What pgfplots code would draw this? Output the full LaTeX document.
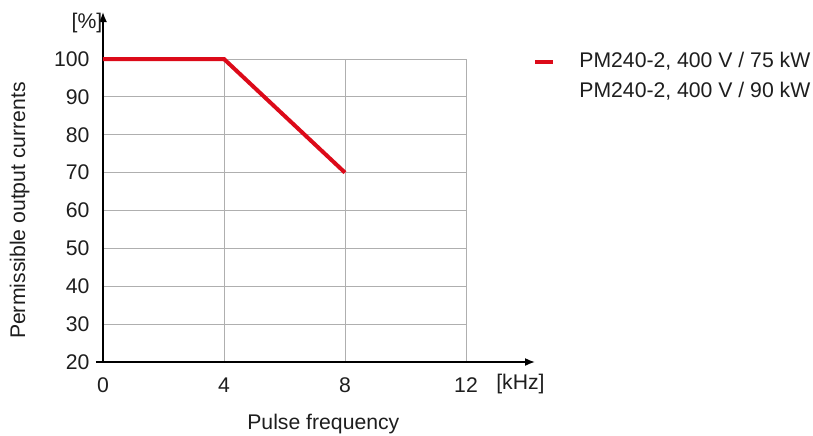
\documentclass[border=0pt]{standalone}
\usepackage{fontspec}
\setmainfont{Liberation Sans}
\usepackage{pgfplots}
\pgfplotsset{compat=1.18}
\usetikzlibrary{arrows.meta}
\definecolor{curvered}{RGB}{220,10,25}
\definecolor{gridgray}{RGB}{175,175,175}
\definecolor{txt}{RGB}{30,30,30}
\begin{document}
\begin{tikzpicture}
\fontsize{10.6}{12.7}\selectfont
\path[use as bounding box] (-51.5pt,-36.5pt) rectangle (355pt,181pt);
\begin{axis}[
  scale only axis,
  width=181.5pt, height=151.5pt,
  xmin=0, xmax=12, ymin=20, ymax=100,
  xtick={0,4,8,12}, ytick={20,30,...,100},
  axis lines=left,
  x axis line style={-{Latex[length=5pt,width=4pt]}, shorten >=-34.5pt, shorten <=-3.5pt, line width=0.8pt},
  y axis line style={-{Latex[length=5pt,width=4pt]}, shorten >=-23.5pt, line width=0.8pt},
  major tick length=0pt,
  grid=major,
  major grid style={gridgray, line width=0.5pt},
  tick label style={font=\fontsize{10.6}{12.7}\selectfont, text=txt},
  /pgf/number format/assume math mode=true,
  xticklabel style={yshift=-4pt},
  yticklabel style={xshift=-3pt},
  xlabel={Pulse frequency},
  ylabel={Permissible output currents},
  label style={font=\fontsize{10.6}{12.7}\selectfont, text=txt},
  xlabel style={at={(rel axis cs:0.607,0)}, yshift=-22.5pt},
  ylabel style={yshift=5pt},
  clip=false,
  legend style={at={(rel axis cs:1.168,1.043)}, anchor=north west, draw=none, fill=none,
    font=\fontsize{10.6}{12.7}\selectfont, text=txt, row sep=3.5pt,
    nodes={inner sep=1pt}},
  legend cell align=left,
  legend image code/.code={\draw[#1] (0pt,0pt) -- (9pt,0pt);},
]
\addplot[curvered, line width=2pt] coordinates {(0,100) (4,100) (8,70)};
\addlegendentry{\hspace{11pt}PM240-2, 400 V / 75 kW}
\addlegendimage{empty legend}
\addlegendentry{\hspace{11pt}PM240-2, 400 V / 90 kW}
\node[txt, anchor=center] at (axis cs:13.8,20) [yshift=-11pt] {[kHz]};
\node[txt, anchor=center] at (axis cs:0,100) [xshift=-8pt, yshift=18pt] {[\%]};
\end{axis}
\end{tikzpicture}
\end{document}
